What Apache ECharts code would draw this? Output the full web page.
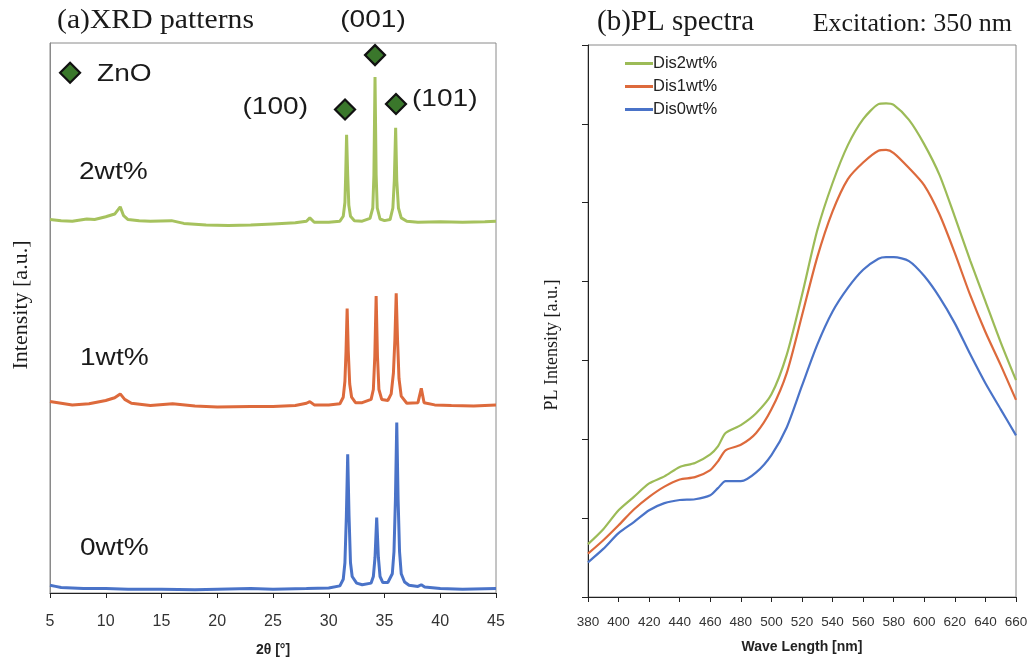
<!DOCTYPE html>
<html>
<head>
<meta charset="utf-8">
<script src="https://cdn.jsdelivr.net/npm/echarts@6/dist/echarts.min.js"></script>
<style>
  html, body { margin: 0; padding: 0; background: #fff; }
  #chart { width: 1035px; height: 662px; }
</style>
</head>
<body>
<div id="chart"></div>
<script>
// ---- (a) XRD patterns: [2θ, intensity] per sample, each stacked by an offset ----
const xrd0wt = [
  [5.0,1.4],[5.5,1.2],[6.0,1.0],[7.0,0.9],[8.0,0.8],[10.0,0.8],[12.0,0.7],[15.0,0.7],
  [18.0,0.6],[20.0,0.7],[23.0,0.8],[25.0,0.7],[28.0,0.8],[30.0,0.9],[31.0,1.3],
  [31.3,2.5],[31.45,5.5],[31.58,14.0],[31.7,25.2],[31.82,14.0],[31.95,5.5],[32.1,3.0],[32.5,1.8],
  [33.0,1.5],[33.8,1.8],[34.0,3.0],[34.15,6.5],[34.3,13.7],[34.45,6.5],[34.6,3.0],[34.85,1.9],
  [35.3,1.9],[35.7,3.5],[35.85,7.5],[35.98,17.0],[36.1,31.0],[36.22,17.0],[36.35,7.5],[36.5,3.5],
  [36.8,2.0],[37.2,1.4],[38.0,1.2],[38.3,1.5],[38.6,1.1],[40.0,0.8],[42.0,0.7],[45.0,0.8]
];
const xrd1wt = [
  [5.0,1.8],[6.0,1.5],[7.0,1.2],[8.5,1.4],[10.0,2.0],[10.8,2.5],[11.3,3.2],[11.7,2.2],
  [12.3,1.5],[14.0,1.1],[16.0,1.4],[18.0,1.0],[20.0,0.8],[23.0,0.9],[25.0,0.9],[27.0,1.1],
  [28.0,1.5],[28.3,1.8],[28.7,1.2],[30.0,1.2],[31.0,1.4],
  [31.3,2.6],[31.45,5.5],[31.55,11.0],[31.65,18.7],[31.75,11.0],[31.88,5.0],[32.05,2.6],[32.4,1.6],
  [33.0,1.6],[33.8,2.2],[34.0,4.0],[34.13,10.0],[34.25,21.0],[34.37,10.0],[34.5,4.0],[34.75,2.2],
  [35.3,2.0],[35.6,3.2],[35.8,7.0],[35.93,13.0],[36.05,21.5],[36.17,13.0],[36.3,6.0],[36.5,2.8],
  [37.0,1.5],[38.0,1.6],[38.3,4.2],[38.55,1.6],[39.5,1.2],[41.0,1.1],[43.0,1.0],[45.0,1.2]
];
const xrd2wt = [
  [5.0,1.9],[6.0,1.7],[7.0,1.6],[8.3,2.0],[9.0,1.9],[10.0,2.4],[10.8,2.9],[11.3,4.2],
  [11.6,2.6],[12.0,1.9],[13.0,1.7],[14.0,1.6],[15.9,1.7],[17.0,1.2],[19.0,0.9],[21.0,0.8],
  [23.0,0.9],[25.0,1.1],[27.0,1.3],[28.0,1.6],[28.3,2.2],[28.7,1.4],[30.0,1.4],[31.0,1.6],
  [31.3,2.5],[31.45,5.0],[31.52,10.0],[31.6,17.3],[31.7,10.0],[31.8,4.5],[31.95,2.5],[32.3,1.7],
  [33.0,1.6],[33.7,2.1],[33.95,4.0],[34.05,10.0],[34.15,27.8],[34.25,10.0],[34.35,4.0],[34.6,2.0],
  [35.0,1.7],[35.5,1.9],[35.75,4.0],[35.88,9.0],[36.0,18.6],[36.1,9.0],[36.25,4.0],[36.5,2.2],
  [37.0,1.6],[38.0,1.4],[40.0,1.5],[42.0,1.4],[44.0,1.5],[45.0,1.6]
];
const xrdOffsets = { '0wt%': 0, '1wt%': 33, '2wt%': 66 };

// ZnO reflection markers [2θ, height] with their Miller indices, plus the key marker
const znoPeaks = [[31.46, 87.9], [34.15, 97.8], [36.03, 88.9]];
const znoIndices = ['(100)', '(001)', '(101)'];
const znoKey = [6.8, 94.6];

// ---- (b) PL spectra ----
const wavelength = [380,390,400,410,420,430,440,450,460,465,470,480,490,500,510,520,530,540,550,560,570,575,580,590,600,610,620,630,640,650,660];
const dis2wt = [0.67,0.86,1.10,1.27,1.44,1.53,1.65,1.70,1.81,1.91,2.08,2.18,2.33,2.57,3.07,3.83,4.65,5.25,5.73,6.06,6.25,6.26,6.24,6.05,5.74,5.35,4.82,4.27,3.75,3.23,2.75];
const dis1wt = [0.55,0.72,0.91,1.11,1.27,1.40,1.49,1.52,1.61,1.72,1.86,1.93,2.08,2.38,2.84,3.57,4.31,4.89,5.30,5.51,5.66,5.67,5.63,5.44,5.22,4.85,4.36,3.83,3.36,2.94,2.50];
const dis0wt = [0.44,0.61,0.81,0.95,1.10,1.19,1.23,1.24,1.29,1.38,1.47,1.47,1.58,1.80,2.15,2.68,3.20,3.62,3.92,4.15,4.29,4.31,4.31,4.26,4.07,3.80,3.47,3.08,2.71,2.38,2.05];

const GREEN = '#9cbb57', XRD_GREEN = '#a6c25e', ORANGE = '#dd6a3c', BLUE = '#4a73c8';

const chart = echarts.init(document.getElementById('chart'), null, { renderer: 'canvas' });

function stacked(pattern, key) {
  return pattern.map(p => [p[0], p[1] + xrdOffsets[key]]);
}
function pairs(ys) { return wavelength.map((w, i) => [w, ys[i]]); }

const serifFont = '"Liberation Serif", "DejaVu Serif", serif';
const sansFont = '"Liberation Sans", Arial, sans-serif';

function txt(x, y, text, size, family, align, vAlign, extra) {
  return Object.assign({
    type: 'text', x: x, y: y, silent: true, z: 10,
    style: { text: text, font: size + 'px ' + family, fill: '#1a1a1a',
             align: align || 'left', verticalAlign: vAlign || 'middle' }
  }, extra || {});
}

const option = {
  animation: false,
  backgroundColor: '#fff',
  grid: [
    { left: 50, top: 43, width: 446, height: 552, show: true, borderColor: '#8a8a8a', borderWidth: 1 },
    { left: 588, top: 45, width: 428, height: 552, show: true, borderColor: '#8a8a8a', borderWidth: 1 }
  ],
  xAxis: [
    {
      gridIndex: 0, type: 'value', min: 5, max: 45, interval: 5,
      name: '2θ [°]', nameLocation: 'middle', nameGap: 50,
      nameTextStyle: { fontFamily: sansFont, fontWeight: 'bold', fontSize: 14, color: '#222' },
      axisLine: { lineStyle: { color: '#222', width: 1 } },
      axisTick: { show: true, length: 5, lineStyle: { color: '#222' } },
      axisLabel: { fontFamily: sansFont, fontSize: 16, color: '#333', margin: 21 },
      splitLine: { show: false }
    },
    {
      gridIndex: 1, type: 'value', min: 380, max: 660, interval: 20,
      name: 'Wave Length [nm]', nameLocation: 'middle', nameGap: 43,
      nameTextStyle: { fontFamily: sansFont, fontWeight: 'bold', fontSize: 14, color: '#222' },
      axisLine: { lineStyle: { color: '#222', width: 1 } },
      axisTick: { show: true, length: 5, lineStyle: { color: '#222' } },
      axisLabel: { fontFamily: sansFont, fontSize: 13.5, color: '#333', margin: 18 },
      splitLine: { show: false }
    }
  ],
  yAxis: [
    {
      gridIndex: 0, type: 'value', min: 0, max: 100,
      axisLine: { show: true, lineStyle: { color: '#8a8a8a' } },
      axisTick: { show: false }, axisLabel: { show: false }, splitLine: { show: false }
    },
    {
      gridIndex: 1, type: 'value', min: 0, max: 7, interval: 1,
      axisLine: { show: true, lineStyle: { color: '#222' } },
      axisTick: { show: true, length: 6, lineStyle: { color: '#222' } },
      axisLabel: { show: false }, splitLine: { show: false }
    }
  ],
  legend: {
    data: ['Dis2wt%', 'Dis1wt%', 'Dis0wt%'],
    orient: 'vertical', left: 620, top: 50, itemGap: 6,
    itemWidth: 28, itemHeight: 3, icon: 'rect',
    textStyle: { fontFamily: sansFont, fontSize: 16.5, color: '#222', padding: [0, 0, 0, -5] }
  },
  series: [
    { name: '2wt%', type: 'line', xAxisIndex: 0, yAxisIndex: 0, data: stacked(xrd2wt, '2wt%'),
      showSymbol: false, symbol: 'none', lineStyle: { color: XRD_GREEN, width: 3 }, z: 2 },
    { name: '1wt%', type: 'line', xAxisIndex: 0, yAxisIndex: 0, data: stacked(xrd1wt, '1wt%'),
      showSymbol: false, symbol: 'none', lineStyle: { color: ORANGE, width: 3 }, z: 2 },
    { name: '0wt%', type: 'line', xAxisIndex: 0, yAxisIndex: 0, data: stacked(xrd0wt, '0wt%'),
      showSymbol: false, symbol: 'none', lineStyle: { color: BLUE, width: 3 }, z: 2 },
    {
      name: 'ZnO', type: 'scatter', xAxisIndex: 0, yAxisIndex: 0, symbol: 'diamond', symbolSize: 20,
      itemStyle: { color: '#3a772b', borderColor: '#111', borderWidth: 2.2, opacity: 1 }, z: 5,
      data: znoPeaks.concat([znoKey])
    },
    { name: 'Dis2wt%', type: 'line', xAxisIndex: 1, yAxisIndex: 1, data: pairs(dis2wt),
      symbol: 'none', smooth: 0.25, color: GREEN, lineStyle: { color: GREEN, width: 2.2 } },
    { name: 'Dis1wt%', type: 'line', xAxisIndex: 1, yAxisIndex: 1, data: pairs(dis1wt),
      symbol: 'none', smooth: 0.25, color: ORANGE, lineStyle: { color: ORANGE, width: 2.2 } },
    { name: 'Dis0wt%', type: 'line', xAxisIndex: 1, yAxisIndex: 1, data: pairs(dis0wt),
      symbol: 'none', smooth: 0.25, color: BLUE, lineStyle: { color: BLUE, width: 2.2 } }
  ]
};

chart.setOption(option);

// Annotation texts; peak labels are anchored to their ZnO markers
const wide = { scaleX: 1.17 };
const graphics = [
  txt(57, 21, '(a)XRD patterns', 28, serifFont, 'left', 'middle', { scaleX: 1.06 }),
  txt(597, 22, '(b)PL spectra', 29, serifFont),
  txt(1012, 24, 'Excitation: 350 nm', 26, serifFont, 'right'),
  txt(21, 305, 'Intensity [a.u.]', 22, serifFont, 'center', 'middle', { rotation: Math.PI / 2 }),
  txt(552, 345, 'PL Intensity [a.u.]', 18, serifFont, 'center', 'middle', { rotation: Math.PI / 2 }),
  txt(79, 172, '2wt%', 24, sansFont, 'left', 'middle', wide),
  txt(80, 358, '1wt%', 24, sansFont, 'left', 'middle', wide),
  txt(80, 548, '0wt%', 24, sansFont, 'left', 'middle', wide)
];
const peakLabelPlacement = [
  { dx: -37, dy: -2, align: 'right' },
  { dx: -2, dy: -35, align: 'center' },
  { dx: 16, dy: -5, align: 'left' }
];
znoPeaks.forEach((p, i) => {
  const px = chart.convertToPixel({ gridIndex: 0 }, p);
  const pl = peakLabelPlacement[i];
  graphics.push(txt(px[0] + pl.dx, px[1] + pl.dy, znoIndices[i], 24, sansFont, pl.align, 'middle', wide));
});
const keyPx = chart.convertToPixel({ gridIndex: 0 }, znoKey);
graphics.push(txt(keyPx[0] + 27, keyPx[1] + 2, 'ZnO', 24, sansFont, 'left', 'middle', wide));

chart.setOption({ graphic: graphics });
</script>
</body>
</html>
